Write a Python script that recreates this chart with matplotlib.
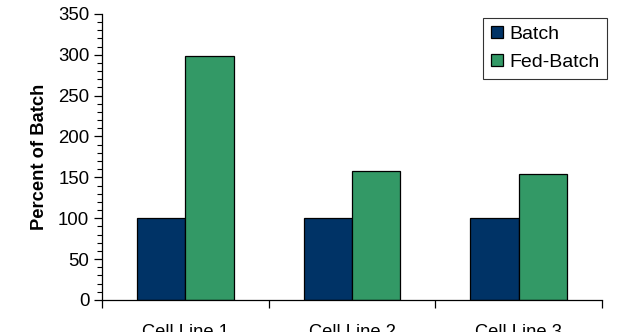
import matplotlib

matplotlib.use("Agg")
import matplotlib.pyplot as plt
import numpy as np
from matplotlib.ticker import MultipleLocator, FixedLocator

plt.rcParams["font.family"] = ["Liberation Sans", "DejaVu Sans"]

categories = ["Cell Line 1", "Cell Line 2", "Cell Line 3"]
batch = [100, 100, 100]
fed_batch = [299, 158, 154]
series_labels = ["Batch", "Fed-Batch"]
colors = ["#003366", "#339966"]

fig = plt.figure(figsize=(6.4, 3.32), dpi=100)
ax = fig.add_axes([0.159, 0.0964, 0.782, 0.862])

x = np.arange(len(categories))
w = 0.29
ax.bar(x - w / 2, batch, w, color=colors[0], edgecolor="black", linewidth=0.9, label=series_labels[0])
ax.bar(x + w / 2, fed_batch, w, color=colors[1], edgecolor="black", linewidth=0.9, label=series_labels[1])

ax.set_xlim(-0.5, len(categories) - 0.5)
ax.set_ylim(0, 350)
ax.yaxis.set_major_locator(MultipleLocator(50))
ax.yaxis.set_minor_locator(MultipleLocator(10))
ax.tick_params(axis="y", which="major", length=6, width=0.9, labelsize=13.4, pad=3)
ax.tick_params(axis="y", which="minor", length=3.5, width=0.8)

ax.set_xticks(x)
ax.set_xticklabels(categories)
ax.xaxis.set_minor_locator(FixedLocator(np.arange(-0.5, len(categories), 1.0)))
ax.tick_params(axis="x", which="major", length=0, labelsize=13.2, pad=17)
ax.tick_params(axis="x", which="minor", length=6, width=0.9)

for s in ("top", "right"):
    ax.spines[s].set_visible(False)
for s in ("left", "bottom"):
    ax.spines[s].set_linewidth(0.9)

ax.set_ylabel("Percent of Batch", fontsize=13.2, fontweight="bold", labelpad=7)

leg = fig.legend(loc="upper right", bbox_to_anchor=(607 / 640, (332 - 18) / 332), fontsize=14,
                 frameon=True, fancybox=False, edgecolor="black",
                 handlelength=0.62, handleheight=0.62, handletextpad=0.3,
                 labelspacing=0.55, borderpad=0.4, borderaxespad=0)
leg.get_frame().set_linewidth(0.8)

fig.savefig("out.png", dpi=100)
